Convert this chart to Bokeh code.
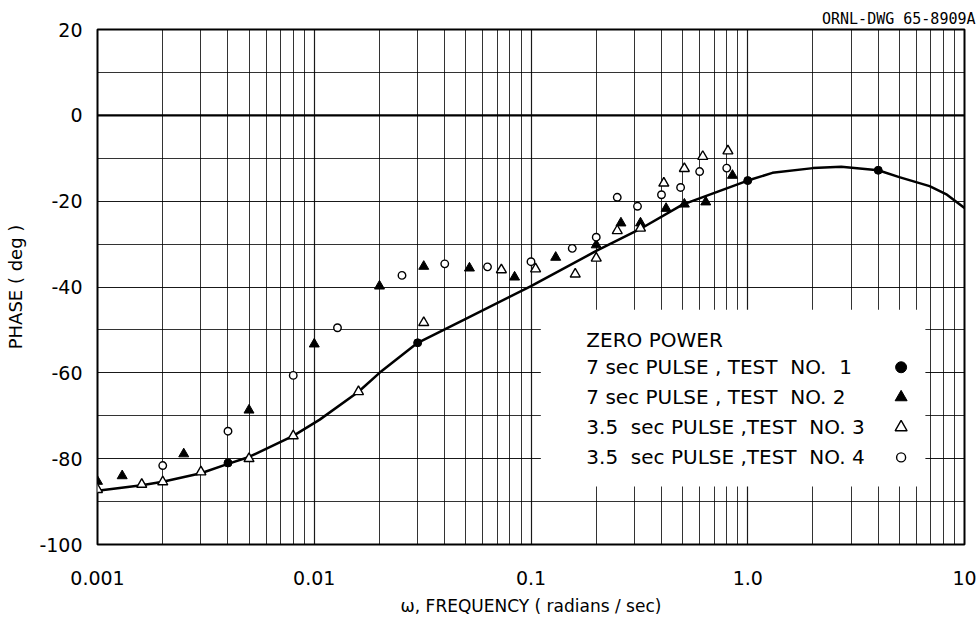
from bokeh.plotting import figure
from bokeh.models import Range1d, FixedTicker, Label, Span, Title
from bokeh.embed import file_html
from bokeh.resources import INLINE

# ---- data ----
curve_freq = [0.001, 0.0016, 0.002, 0.003, 0.004, 0.005, 0.008, 0.0106, 0.016, 0.02, 0.03,
              0.05, 0.1, 0.2, 0.316, 0.5, 1.0, 1.3, 2.0, 2.7, 4.0, 5.0, 6.9, 8.3, 10.0]
curve_phase = [-87.5, -86.2, -85.4, -83.4, -81.2, -79.6, -74.7, -70.9, -64.4, -60.0, -53.0,
               -47.4, -39.8, -31.6, -26.6, -20.8, -15.2, -13.4, -12.3, -12.0, -12.8, -14.4, -16.5, -18.5, -21.6]

t1_freq = [0.004, 0.03, 1.0, 4.0]
t1_phase = [-81.0, -53.0, -15.2, -12.8]

t2_freq = [0.001, 0.0013, 0.0025, 0.005, 0.01, 0.02, 0.032, 0.052, 0.084, 0.13, 0.2,
           0.26, 0.32, 0.42, 0.51, 0.64, 0.85]
t2_phase = [-85.3, -84.0, -78.9, -68.7, -53.3, -39.8, -35.2, -35.6, -37.7, -33.1, -30.2,
            -25.1, -25.1, -21.7, -20.7, -20.2, -14.0]

t3_freq = [0.001, 0.0016, 0.002, 0.003, 0.005, 0.008, 0.016, 0.032, 0.073, 0.105, 0.16,
           0.2, 0.25, 0.32, 0.41, 0.51, 0.62, 0.81]
t3_phase = [-87.2, -86.0, -85.4, -83.1, -80.0, -74.7, -64.4, -48.3, -36.0, -35.8, -37.0,
            -33.3, -26.9, -26.3, -15.8, -12.4, -9.6, -8.3]

t4_freq = [0.002, 0.004, 0.008, 0.0128, 0.0254, 0.04, 0.063, 0.1, 0.155, 0.2, 0.25,
           0.31, 0.4, 0.49, 0.6, 0.8]
t4_phase = [-81.6, -73.6, -60.6, -49.5, -37.3, -34.6, -35.3, -34.1, -31.0, -28.4, -19.1,
            -21.2, -18.5, -16.8, -13.1, -12.3]

x_major = [0.001, 0.01, 0.1, 1.0, 10.0]
x_labels = ["0.001", "0.01", "0.1", "1.0", "10"]
y_major = [-100, -80, -60, -40, -20, 0, 20]
y_minor = [-90, -70, -50, -30, -10, 10]

NB = "\u00a0"
legend_title = "ZERO POWER"
legend_labels = ["7 sec PULSE , TEST" + NB * 2 + "NO." + NB * 2 + "1",
                 "7 sec PULSE , TEST" + NB * 2 + "NO." + NB + "2",
                 "3.5" + NB + " sec PULSE ,TEST" + NB + " NO. 3",
                 "3.5" + NB + " sec PULSE ,TEST" + NB + " NO. 4"]

FONT = "DejaVu Sans"

x_minor = [m * d for d in [0.001, 0.01, 0.1, 1.0] for m in range(2, 10)]

p = figure(width=979, height=620, x_axis_type="log",
           x_range=Range1d(0.001, 10), y_range=Range1d(-100, 20),
           output_backend="svg", toolbar_location=None,
           min_border_left=97, min_border_right=15, min_border_top=29, min_border_bottom=76)

p.background_fill_color = "white"
p.border_fill_color = "white"
p.outline_line_color = "black"
p.outline_line_width = 2

p.add_layout(Title(text="ORNL-DWG 65-8909A", align="right", vertical_align="top",
                   text_font="DejaVu Sans Mono", text_font_size="15px",
                   text_font_style="normal", text_color="black",
                   standoff=0, offset=-11), "above")

p.xaxis.ticker = FixedTicker(ticks=x_major, minor_ticks=x_minor)
p.yaxis.ticker = FixedTicker(ticks=y_major, minor_ticks=y_minor)
p.xaxis.major_label_overrides = {v: s for v, s in zip(x_major, x_labels)}
p.yaxis.major_label_overrides = {v: str(v) for v in y_major}

for ax in (p.xaxis[0], p.yaxis[0]):
    ax.axis_line_color = None
    ax.major_tick_line_color = None
    ax.minor_tick_line_color = None
    ax.major_label_text_font = FONT
    ax.major_label_text_font_size = "19px"
    ax.major_label_text_color = "black"
    ax.axis_label_text_font = FONT
    ax.axis_label_text_font_style = "normal"
    ax.axis_label_text_font_size = "17px"
    ax.axis_label_text_color = "black"

p.yaxis.axis_label_text_font_size = "18px"
p.xaxis.major_label_standoff = 20
p.xaxis.axis_label_standoff = 8
p.yaxis.major_label_standoff = 9
p.yaxis.axis_label_standoff = 10
p.xaxis.axis_label = "\u03c9, FREQUENCY ( radians / sec)"
p.yaxis.axis_label = "PHASE ( deg )"

for g in (p.xgrid[0], p.ygrid[0]):
    g.grid_line_color = "black"
    g.grid_line_alpha = 0.9
    g.grid_line_width = 1.2
    g.minor_grid_line_color = "black"
    g.minor_grid_line_alpha = 0.8
    g.minor_grid_line_width = 1

p.add_layout(Span(location=0, dimension="width", line_color="black", line_width=2.2))

# white box behind the legend
p.quad(left=[0.111], right=[6.6], bottom=[-86.5], top=[-45.3],
       fill_color="white", line_color=None)

# fitted curve
p.line(curve_freq, curve_phase, line_color="black", line_width=2.5)

# data series
p.scatter(t1_freq, t1_phase, marker="circle", size=8, fill_color="black", line_color="black")
p.scatter(t2_freq, t2_phase, marker="triangle", size=10, fill_color="black", line_color="black")
p.scatter(t3_freq, t3_phase, marker="triangle", size=10, fill_color="white", line_color="black", line_width=1.4)
p.scatter(t4_freq, t4_phase, marker="circle", size=7.5, fill_color="white", line_color="black", line_width=1.4)

# legend (text left, marker right)
LX_TEXT = 0.18
LX_MARK = 5.1
ROWS = [-58.7, -65.7, -72.7, -79.7]
p.add_layout(Label(x=LX_TEXT, y=-52.4, text=legend_title, text_font=FONT,
                   text_font_size="20px", text_baseline="middle", text_color="black"))
for lab, yy in zip(legend_labels, ROWS):
    p.add_layout(Label(x=LX_TEXT, y=yy, text=lab, text_font=FONT,
                       text_font_size="20px", text_baseline="middle", text_color="black"))
p.scatter([LX_MARK], [ROWS[0]], marker="circle", size=11, fill_color="black", line_color="black")
p.scatter([LX_MARK], [ROWS[1]], marker="triangle", size=12, fill_color="black", line_color="black")
p.scatter([LX_MARK], [ROWS[2]], marker="triangle", size=12, fill_color="white", line_color="black", line_width=1.4)
p.scatter([LX_MARK], [ROWS[3]], marker="circle", size=9, fill_color="white", line_color="black", line_width=1.4)

open("out.html", "w").write(file_html(p, INLINE))
